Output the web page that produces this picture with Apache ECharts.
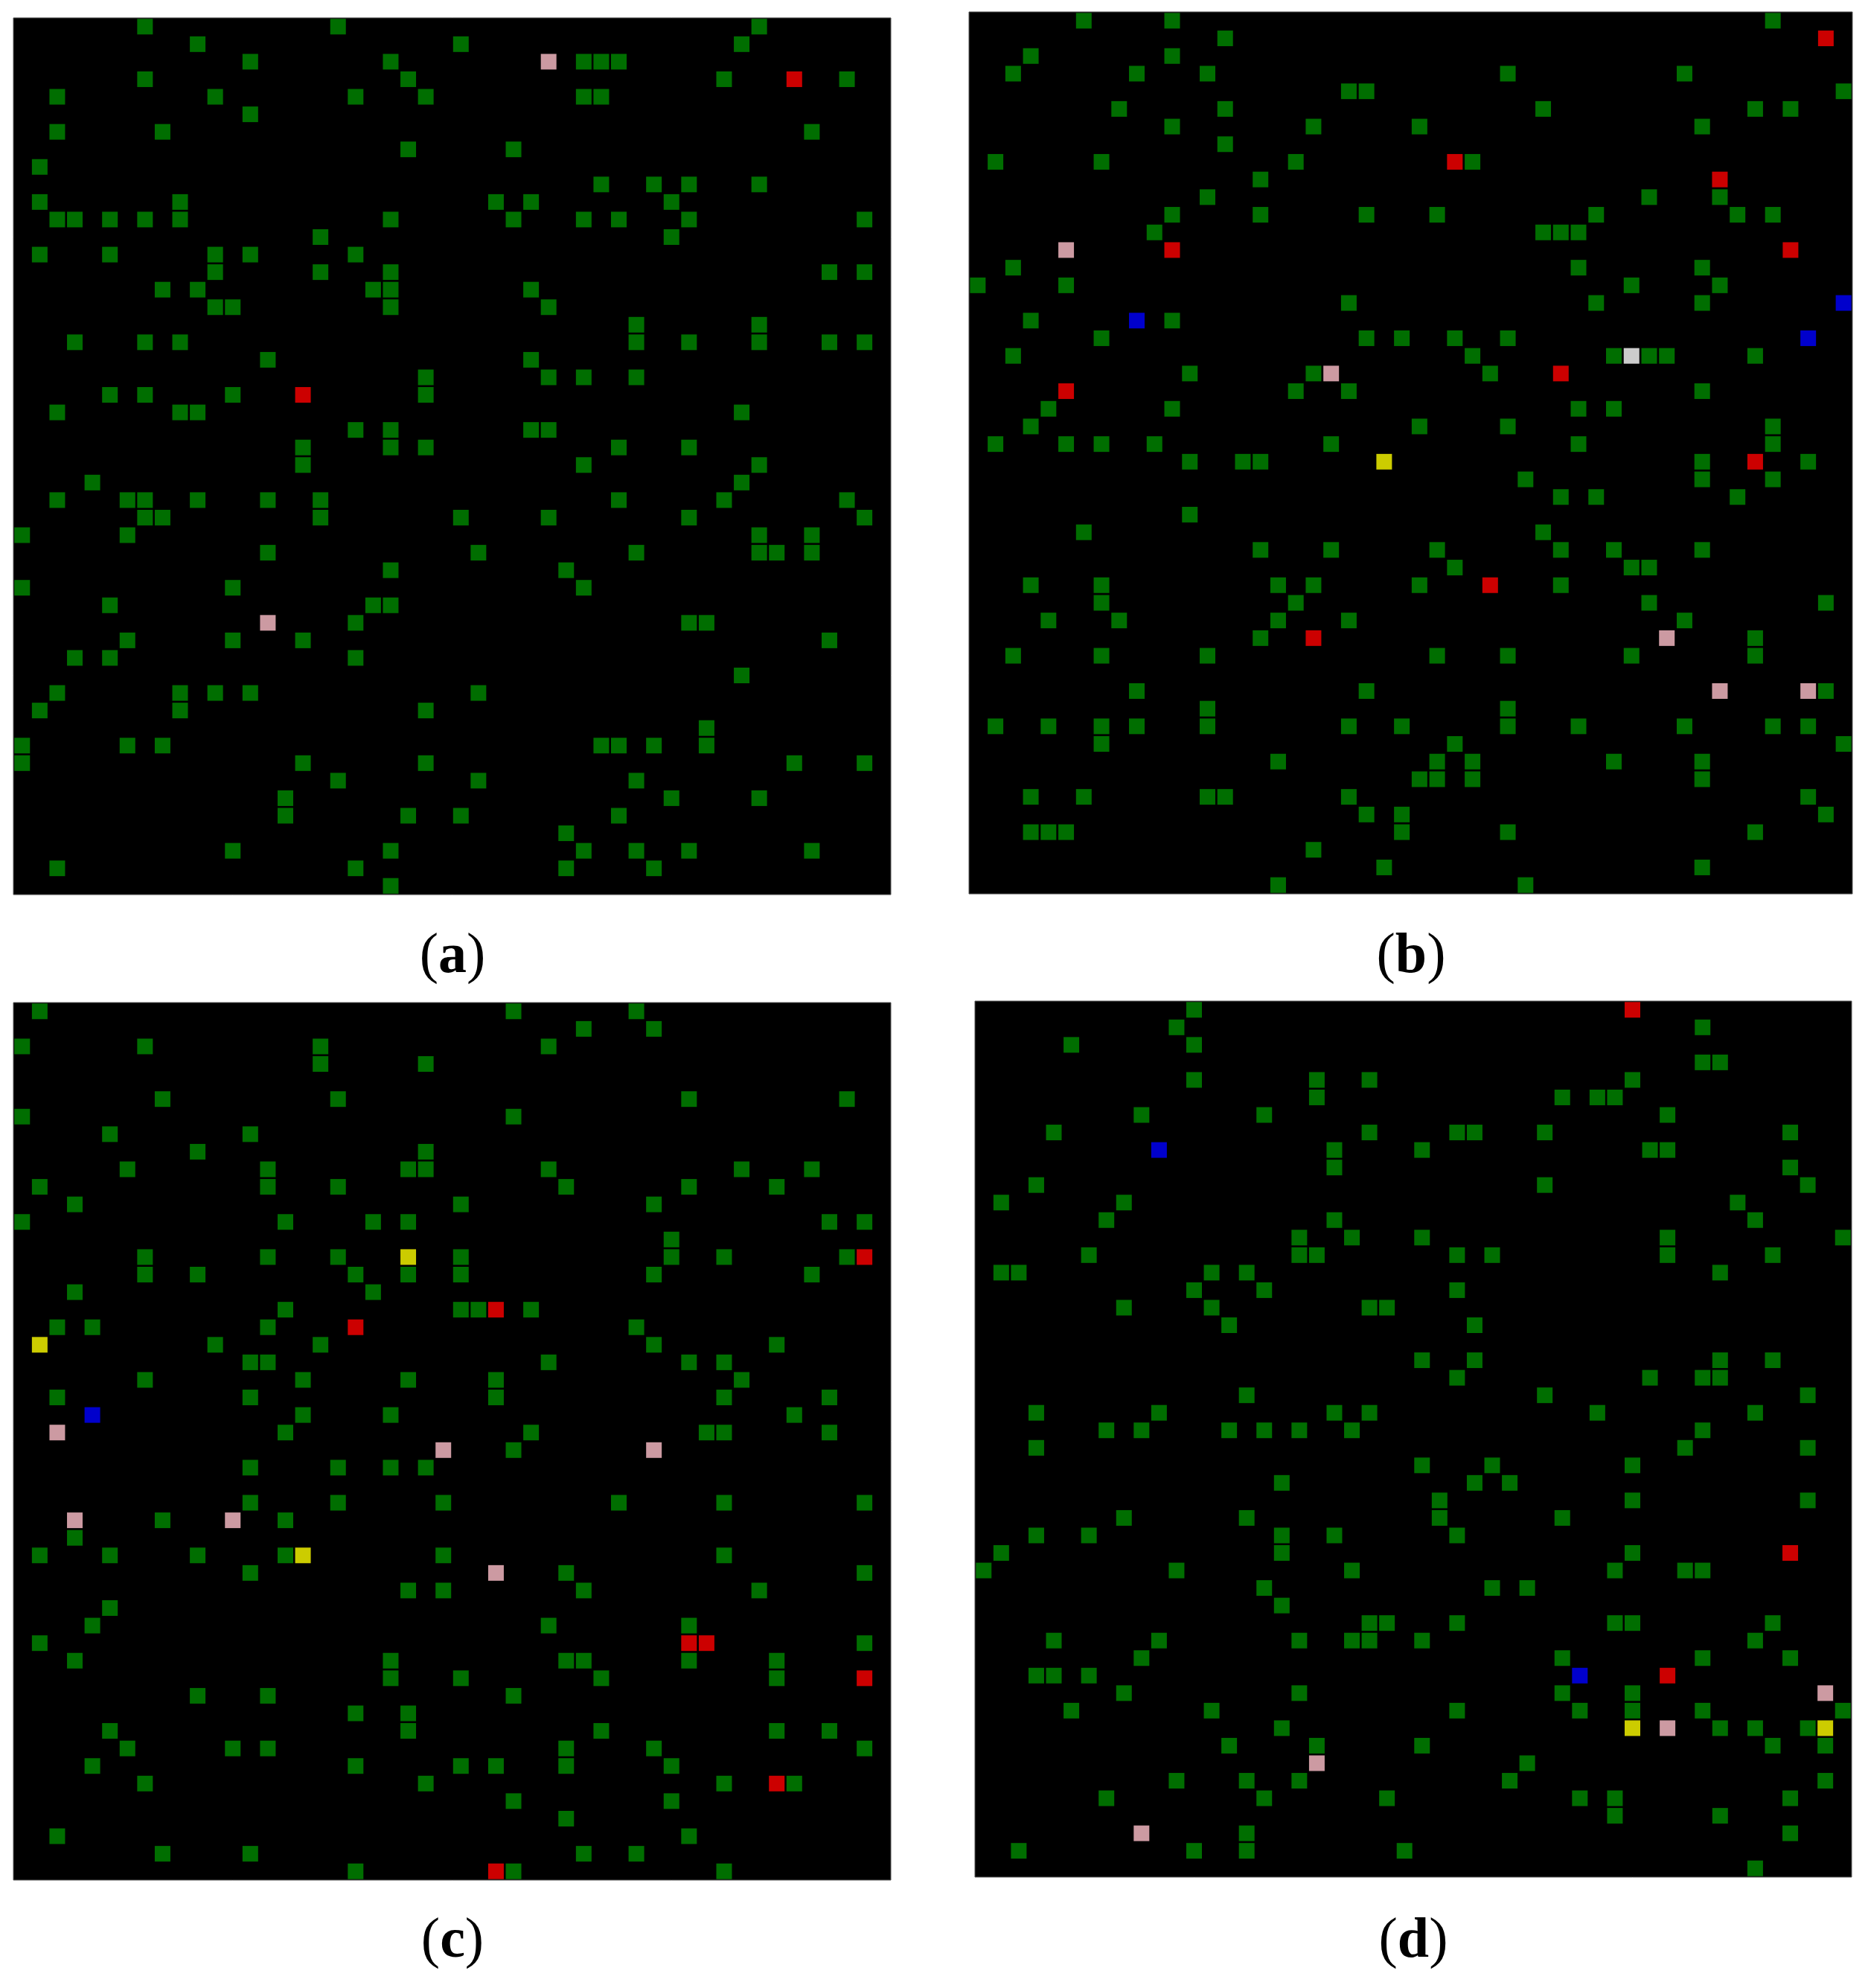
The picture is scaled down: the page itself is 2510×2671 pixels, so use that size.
<!DOCTYPE html>
<html>
<head>
<meta charset="utf-8">
<title>cell maps (a)-(d)</title>
<script src="https://cdn.jsdelivr.net/npm/echarts@6/dist/echarts.min.js"></script>
<style>
  html, body { margin: 0; padding: 0; background: #fff; }
  #chart { width: 2510px; height: 2671px; }
</style>
</head>
<body>
<div id="chart"></div>
<script>
// each map is 50 x 50 cells, rows counted from the top
const cellIndex = [];
for (let i = 0; i < 50; i++) cellIndex.push(i);

const panelLabels = ['a', 'b', 'c', 'd'];

// green cells, one entry per row (row 0 = top), listing the occupied columns
const aGreenRows = [
  [7, 18, 42], [10, 25, 41], [13, 21, 32, 33, 34], [7, 22, 40, 47], [2, 11, 19, 23, 32, 33],
  [13], [2, 8, 45], [22, 28], [1], [33, 36, 38, 42],
  [1, 9, 27, 29, 37], [2, 3, 5, 7, 9, 21, 28, 32, 34, 38, 48], [17, 37], [1, 5, 11, 13, 19], [11, 17, 21, 46, 48],
  [8, 10, 20, 21, 29], [11, 12, 21, 30], [35, 42], [3, 7, 9, 35, 38, 42, 46, 48], [14, 29],
  [23, 30, 32, 35], [5, 7, 12, 23], [2, 9, 10, 41], [19, 21, 29, 30], [16, 21, 23, 34, 38],
  [16, 32, 42], [4, 41], [2, 6, 7, 10, 14, 17, 34, 40, 47], [7, 8, 17, 25, 30, 38, 48], [0, 6, 42, 45],
  [14, 26, 35, 42, 43, 45], [21, 31], [0, 12, 32], [5, 20, 21], [19, 38, 39],
  [6, 12, 16, 46], [3, 5, 19], [41], [2, 9, 11, 13, 26], [1, 9, 23],
  [39], [0, 6, 8, 33, 34, 36, 39], [0, 16, 23, 44, 48], [18, 26, 35], [15, 37, 42],
  [15, 22, 25, 34], [31], [12, 21, 32, 35, 38, 45], [2, 19, 31, 36], [21]
];
const aRed = [[44, 3], [16, 21]];
const aPink = [[30, 2], [14, 34]];

const bGreenRows = [
  [6, 11, 45], [14], [3, 11], [2, 9, 13, 30, 40], [21, 22, 49],
  [8, 14, 32, 44, 46], [11, 19, 25, 41], [14], [1, 7, 18, 28], [16],
  [13, 38, 42], [11, 16, 22, 26, 35, 43, 45], [10, 32, 33, 34], [], [2, 34, 41],
  [0, 5, 37, 42], [21, 35, 41], [3, 11], [7, 22, 24, 27, 30], [2, 28, 36, 38, 39, 44],
  [12, 19, 29], [18, 21, 41], [4, 11, 34, 36], [3, 25, 30, 45], [1, 5, 7, 10, 20, 34, 45],
  [12, 15, 16, 41, 47], [31, 41, 45], [33, 35, 43], [12], [6, 32],
  [16, 20, 26, 33, 36, 41], [27, 37, 38], [3, 7, 17, 19, 25, 33], [7, 18, 38, 48], [4, 8, 17, 21, 40],
  [16, 44], [2, 7, 13, 26, 30, 37, 44], [], [9, 22, 48], [13, 30],
  [1, 4, 7, 9, 13, 21, 24, 30, 34, 40, 45, 47], [7, 27, 49], [17, 26, 28, 36, 41], [25, 26, 28, 41], [3, 6, 13, 14, 21, 47],
  [22, 24, 48], [3, 4, 5, 24, 30, 44], [19], [23, 41], [17, 31]
];
const bRed = [[48, 1], [27, 8], [42, 9], [11, 13], [46, 13], [33, 20], [5, 21], [44, 25], [29, 32], [19, 35]];
const bPink = [[5, 13], [20, 20], [39, 35], [42, 38], [47, 38]];
const bBlue = [[49, 16], [9, 17], [47, 18]];
const bYellow = [[23, 25]];
const bWhite = [[37, 19]];

const cGreenRows = [
  [1, 28, 35], [32, 36], [0, 7, 17, 30], [17, 23], [],
  [8, 18, 38, 47], [0, 28], [5, 13], [10, 23], [6, 14, 22, 23, 30, 41, 45],
  [1, 14, 18, 31, 38, 43], [3, 25, 36], [0, 15, 20, 22, 46, 48], [37], [7, 14, 18, 25, 37, 40, 47],
  [7, 10, 19, 22, 25, 36, 45], [3, 20], [15, 25, 26, 29], [2, 4, 14, 35], [11, 17, 36, 43],
  [13, 14, 30, 38, 40], [7, 16, 22, 27, 41], [2, 13, 27, 40, 46], [16, 21, 44], [15, 29, 39, 40, 46],
  [28], [13, 18, 21, 23], [], [13, 18, 24, 34, 40, 48], [8, 15],
  [3], [1, 5, 10, 15, 24, 40], [13, 31, 48], [22, 24, 32, 42], [5],
  [4, 30, 38], [1, 48], [3, 21, 31, 32, 38, 43], [21, 25, 33, 43], [10, 14, 28],
  [19, 22], [5, 22, 33, 43, 46], [6, 12, 14, 31, 36, 48], [4, 19, 25, 27, 31, 37], [7, 23, 40, 44],
  [28, 37], [31], [2, 38], [8, 13, 32, 35], [19, 28, 40]
];
const cRed = [[48, 14], [27, 17], [19, 18], [38, 36], [39, 36], [48, 38], [43, 44], [27, 49]];
const cPink = [[2, 24], [24, 25], [36, 25], [3, 29], [12, 29], [27, 32]];
const cBlue = [[4, 23]];
const cYellow = [[22, 14], [1, 19], [16, 31]];

const dGreenRows = [
  [12], [11, 41], [5, 12], [41, 42], [12, 19, 22, 37],
  [19, 33, 35, 36], [9, 16, 39], [4, 22, 27, 28, 32, 46], [20, 25, 38, 39], [20, 46],
  [3, 32, 47], [1, 8, 43], [7, 20, 44], [18, 21, 25, 39, 49], [6, 18, 19, 27, 29, 39, 45],
  [1, 2, 13, 15, 42], [12, 16, 27], [8, 13, 22, 23], [14, 28], [],
  [25, 28, 42, 45], [27, 38, 41, 42], [15, 32, 47], [3, 10, 20, 22, 35, 44], [7, 9, 14, 16, 18, 21, 41],
  [3, 40, 47], [25, 29, 37], [17, 28, 30], [26, 37, 47], [8, 15, 26, 33],
  [3, 6, 17, 20, 27], [1, 17, 37], [0, 11, 21, 36, 40, 41], [16, 29, 31], [17],
  [22, 23, 27, 36, 37, 45], [4, 10, 18, 21, 22, 25, 44], [9, 33, 41, 46], [3, 4, 6], [8, 18, 33, 37],
  [5, 13, 27, 34, 37, 41, 49], [17, 42, 44, 47], [14, 19, 25, 45, 48], [31], [11, 15, 18, 30, 48],
  [7, 16, 23, 34, 36, 46], [36, 42], [15, 46], [2, 12, 15, 24], [44]
];
const dRed = [[37, 0], [46, 31], [39, 38]];
const dPink = [[48, 39], [39, 41], [19, 43], [9, 47]];
const dBlue = [[10, 8], [34, 38]];
const dYellow = [[37, 41], [48, 41]];

// 行列表 -> [列, 行] 点对
function rowsToPoints(rows) {
  const pts = [];
  rows.forEach((cols, r) => cols.forEach(c => pts.push([c, r])));
  return pts;
}

const colours = {
  green: '#008a00',
  red: '#ff0000',
  pink: '#ffc0cb',
  blue: '#0000ff',
  yellow: '#ffff00',
  white: '#ffffff'
};

const panels = [
  { green: rowsToPoints(aGreenRows), red: aRed, pink: aPink },
  { green: rowsToPoints(bGreenRows), red: bRed, pink: bPink, blue: bBlue, yellow: bYellow, white: bWhite },
  { green: rowsToPoints(cGreenRows), red: cRed, pink: cPink, blue: cBlue, yellow: cYellow },
  { green: rowsToPoints(dGreenRows), red: dRed, pink: dPink, blue: dBlue, yellow: dYellow }
];

// pixel boxes of the four maps, and label centres below them
const boxes = [
  { left: 18, top: 24, width: 1179, height: 1178 },
  { left: 1302, top: 16, width: 1187, height: 1185 },
  { left: 18, top: 1347, width: 1179, height: 1179 },
  { left: 1310, top: 1345, width: 1178, height: 1177 }
];
const labelPos = [[608, 1286], [1896, 1286], [608, 2609], [1899, 2609]];

const grid = [], xAxis = [], yAxis = [], series = [], graphic = [];
boxes.forEach((b, i) => {
  grid.push(Object.assign({
    show: true, backgroundColor: '#000', borderColor: '#555', borderWidth: 1
  }, b));
  xAxis.push({ gridIndex: i, type: 'category', data: cellIndex, boundaryGap: true, show: false });
  yAxis.push({ gridIndex: i, type: 'category', data: cellIndex, boundaryGap: true, inverse: true, show: false });

  Object.keys(panels[i]).forEach(key => {
    series.push({
      type: 'scatter',
      xAxisIndex: i,
      yAxisIndex: i,
      symbol: 'rect',
      symbolSize: 21,
      itemStyle: { color: colours[key] },
      emphasis: { disabled: true },
      data: panels[i][key]
    });
  });

  graphic.push({
    type: 'text',
    x: labelPos[i][0],
    y: labelPos[i][1],
    style: {
      text: '({b|' + panelLabels[i] + '})',
      fontFamily: 'Liberation Serif',
      fontSize: 76,
      fill: '#000',
      align: 'center',
      verticalAlign: 'middle',
      rich: { b: { fontFamily: 'Liberation Serif', fontSize: 76, fontWeight: 'bold', fill: '#000' } }
    }
  });
});

const chart = echarts.init(document.getElementById('chart'), null, { renderer: 'canvas' });
chart.setOption({
  backgroundColor: '#fff',
  animation: false,
  grid: grid,
  xAxis: xAxis,
  yAxis: yAxis,
  series: series,
  graphic: graphic
});
</script>
</body>
</html>
